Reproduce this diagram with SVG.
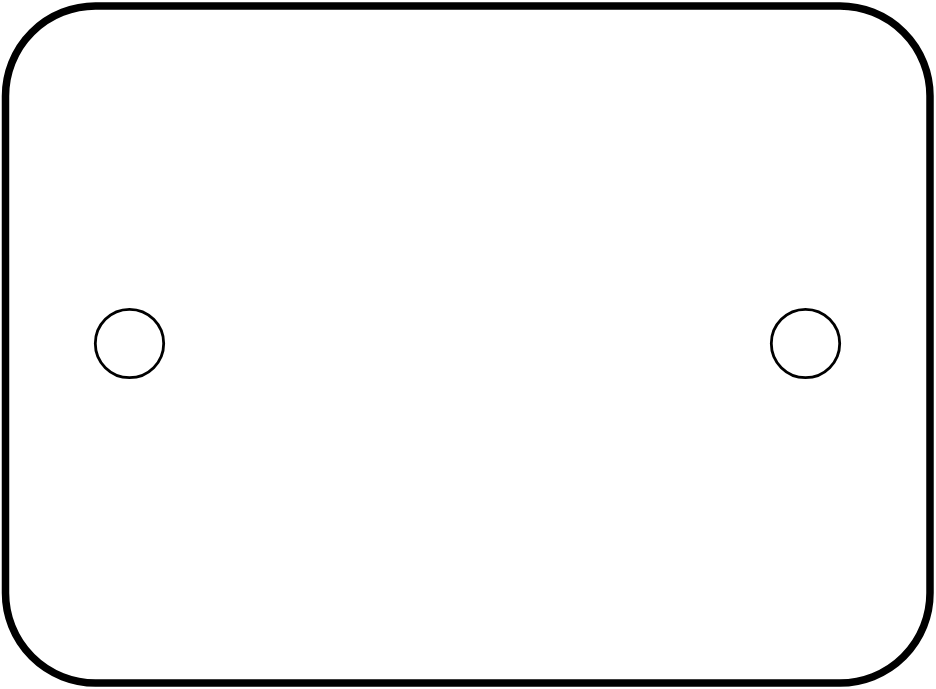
<svg xmlns="http://www.w3.org/2000/svg" width="936" height="689" viewBox="0 0 936 689">
<style>
.plate{fill:#fff;stroke:#000;stroke-width:7.5}
.hole{fill:#fff;stroke:#000;stroke-width:2.8}
</style>
<rect width="936" height="689" fill="#fff"/>
<g id="plate"><rect class="plate" x="5.5" y="6" width="924.5" height="677" rx="90" ry="90"/></g>
<g id="hole-left"><circle class="hole" cx="129.5" cy="343.5" r="34.2"/></g>
<g id="hole-right"><circle class="hole" cx="805.5" cy="343.5" r="34.2"/></g>
<g id="connectors"></g>
</svg>
